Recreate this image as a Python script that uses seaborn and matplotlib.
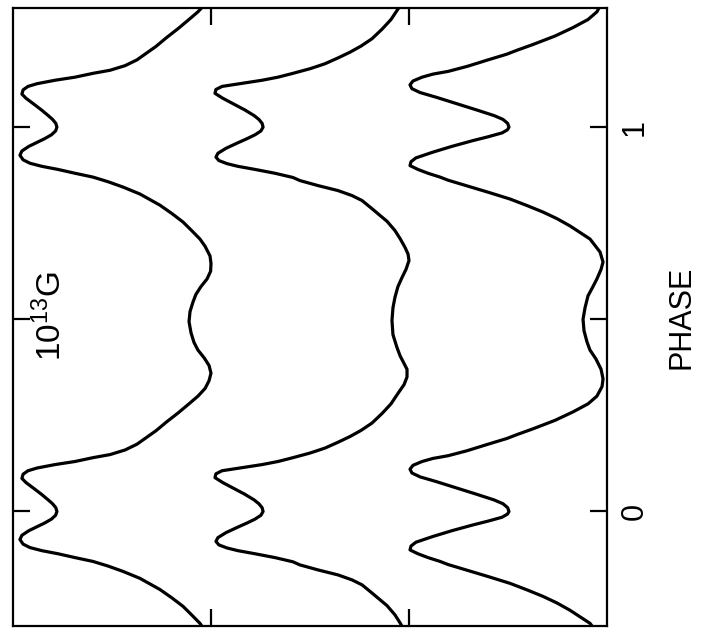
import numpy as np
import pandas as pd
import matplotlib
matplotlib.use("Agg")
import matplotlib.pyplot as plt
import seaborn as sns

# Pulse profiles over one rotation (phase 0..1), normalised flux, three models
phase_1 = [0.000, 0.010, 0.020, 0.030, 0.045, 0.060, 0.075, 0.086, 0.097, 0.106,
           0.113, 0.122, 0.130, 0.140, 0.148, 0.160, 0.175, 0.190, 0.210, 0.234,
           0.256, 0.278, 0.300, 0.320, 0.340, 0.360, 0.380, 0.400, 0.420, 0.440,
           0.465, 0.494, 0.520, 0.545, 0.565, 0.585, 0.605, 0.625, 0.645, 0.665,
           0.690, 0.709, 0.730, 0.753, 0.775, 0.797, 0.810, 0.826, 0.844, 0.858,
           0.870, 0.880, 0.890, 0.898, 0.906, 0.915, 0.927, 0.938, 0.950, 0.960,
           0.970, 0.980, 0.990]
flux_1 = [0.778, 0.784, 0.800, 0.822, 0.857, 0.895, 0.934, 0.955, 0.949, 0.924,
          0.879, 0.788, 0.687, 0.596, 0.510, 0.434, 0.374, 0.333, 0.278, 0.222,
          0.167, 0.116, 0.066, 0.030, 0.010, 0.000, 0.010, 0.035, 0.066, 0.086,
          0.101, 0.111, 0.106, 0.091, 0.076, 0.051, 0.020, 0.002, 0.000, 0.005,
          0.030, 0.056, 0.096, 0.141, 0.197, 0.258, 0.303, 0.359, 0.444, 0.520,
          0.596, 0.687, 0.773, 0.854, 0.914, 0.949, 0.965, 0.955, 0.920, 0.880,
          0.840, 0.806, 0.785]

phase_2 = [0.000, 0.010, 0.020, 0.030, 0.045, 0.060, 0.075, 0.088, 0.098, 0.106,
           0.113, 0.122, 0.130, 0.140, 0.152, 0.165, 0.180, 0.195, 0.211, 0.230,
           0.255, 0.280, 0.307, 0.330, 0.350, 0.370, 0.385, 0.405, 0.427, 0.460,
           0.497, 0.530, 0.557, 0.585, 0.609, 0.630, 0.653, 0.670, 0.687, 0.710,
           0.731, 0.755, 0.775, 0.790, 0.809, 0.822, 0.835, 0.848, 0.861, 0.869,
           0.880, 0.890, 0.898, 0.905, 0.913, 0.922, 0.932, 0.945, 0.958, 0.970,
           0.980, 0.990]
flux_2 = [0.737, 0.742, 0.758, 0.782, 0.830, 0.885, 0.940, 0.980, 0.975, 0.944,
          0.854, 0.742, 0.662, 0.586, 0.500, 0.424, 0.359, 0.298, 0.242, 0.187,
          0.136, 0.091, 0.056, 0.025, 0.010, 0.010, 0.025, 0.045, 0.061, 0.081,
          0.086, 0.081, 0.071, 0.056, 0.035, 0.015, 0.000, 0.005, 0.020, 0.045,
          0.071, 0.111, 0.157, 0.192, 0.237, 0.288, 0.359, 0.460, 0.551, 0.586,
          0.677, 0.778, 0.864, 0.919, 0.960, 0.975, 0.965, 0.924, 0.870, 0.818,
          0.778, 0.748]

phase_3 = [0.000, 0.010, 0.020, 0.030, 0.045, 0.060, 0.078, 0.090, 0.100, 0.110,
           0.120, 0.130, 0.138, 0.145, 0.158, 0.175, 0.190, 0.200, 0.215, 0.237,
           0.259, 0.280, 0.300, 0.325, 0.345, 0.370, 0.397, 0.420, 0.441, 0.470,
           0.500, 0.530, 0.561, 0.585, 0.605, 0.630, 0.649, 0.675, 0.709, 0.743,
           0.762, 0.779, 0.796, 0.813, 0.830, 0.847, 0.862, 0.870, 0.880, 0.890,
           0.900, 0.910, 0.920, 0.935, 0.950, 0.965, 0.975, 0.985, 0.993]
flux_3 = [0.495, 0.502, 0.525, 0.570, 0.660, 0.753, 0.864, 0.944, 0.985, 0.995,
          0.980, 0.934, 0.879, 0.803, 0.707, 0.601, 0.505, 0.455, 0.374, 0.263,
          0.172, 0.096, 0.051, 0.025, 0.020, 0.030, 0.056, 0.086, 0.101, 0.116,
          0.121, 0.111, 0.096, 0.071, 0.051, 0.030, 0.020, 0.035, 0.086, 0.187,
          0.253, 0.323, 0.404, 0.490, 0.596, 0.707, 0.803, 0.843, 0.904, 0.955,
          0.995, 0.990, 0.965, 0.879, 0.783, 0.677, 0.600, 0.530, 0.503]

# horizontal offsets separating the stacked profiles
offsets = [2.0, 1.0, 0.0]
cycles = [-1, 0, 1]
field_label = "10$^{13}$G"

frames = []
for i, (ph, fl, off) in enumerate(zip([phase_1, phase_2, phase_3],
                                      [flux_1, flux_2, flux_3], offsets)):
    ph = np.asarray(ph)
    fl = np.asarray(fl)
    all_ph = np.concatenate([ph + c for c in cycles] + [[ph[0] + cycles[-1] + 1]])
    all_fl = np.concatenate([fl for _ in cycles] + [[fl[0]]])
    frames.append(pd.DataFrame({"phase": all_ph, "flux": all_fl + off,
                                "model": i}))
df = pd.concat(frames, ignore_index=True)

sns.set_style("white")
plt.rcParams["font.family"] = ["Liberation Sans", "DejaVu Sans"]
plt.rcParams["mathtext.default"] = "regular"
plt.rcParams["text.color"] = "black"
plt.rcParams["axes.labelcolor"] = "black"
plt.rcParams["xtick.color"] = "black"
plt.rcParams["ytick.color"] = "black"

fig = plt.figure(figsize=(7.01, 6.33), dpi=100)
ax = fig.add_axes([13 / 701, 1 - 626 / 633, (607 - 13) / 701, (626 - 8) / 633])

sns.lineplot(data=df, x="flux", y="phase", units="model", estimator=None,
             sort=False, color="black", linewidth=2.3, ax=ax, legend=False,
             solid_joinstyle="round", solid_capstyle="round")

ax.set_xlim(3.0, 0.0)
ax.set_ylim(-0.298, 1.31)

ax.set_xticks([1.0, 2.0])
ax.set_yticks([0.0, 0.5, 1.0])
ax.set_yticklabels(["0", "", "1"])
ax.tick_params(axis="x", direction="in", top=True, bottom=True,
               labelbottom=False, labeltop=False, length=12, width=1.6,
               color="black")
ax.tick_params(axis="y", direction="in", left=True, right=True,
               labelleft=False, labelright=True, length=12, width=1.6,
               pad=9, labelsize=22, labelrotation=90, color="black",
               labelcolor="black")
for lbl in ax.get_yticklabels():
    lbl.set_verticalalignment("center")

ax.set_xlabel("")
ax.yaxis.set_label_position("right")
ax.set_ylabel("PHASE", fontsize=22, rotation=90, color="black")
ax.yaxis.set_label_coords(1.10, 0.5)

ax.text(2.81, 0.508, field_label, rotation=90, ha="center", va="center",
        fontsize=24, color="black")

for s in ax.spines.values():
    s.set_visible(True)
    s.set_linewidth(1.6)
    s.set_color("black")

fig.savefig("out.png", dpi=100, facecolor="white")
